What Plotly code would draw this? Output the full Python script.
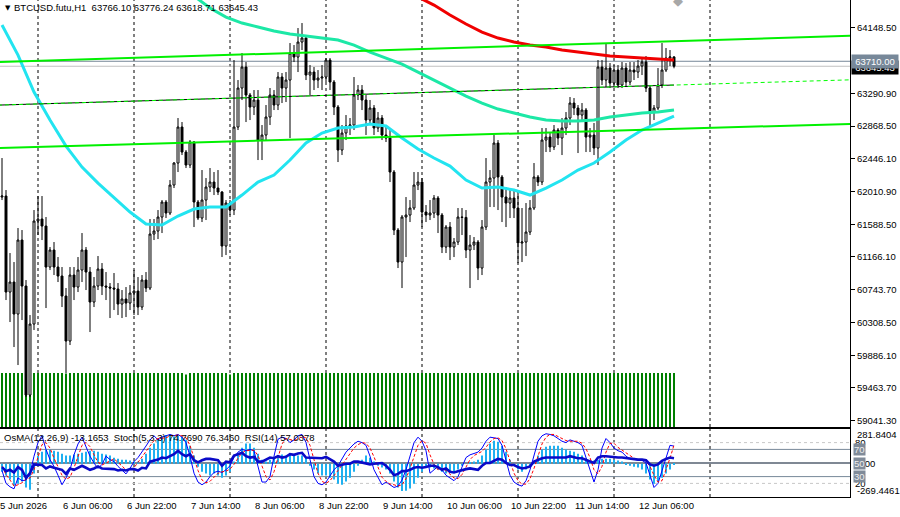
import pandas as pd
import plotly.graph_objects as go

# ---------------- data ----------------
times = pd.date_range("2026-06-05 15:00", periods=169, freq="h")

open_ = [
    61945, 61958, 60710, 60840, 60424, 61386, 60788, 59371, 60294, 61633,
    61659, 61568, 61035, 61256, 61035, 60918, 60658, 60073, 60931, 60775,
    60996, 61256, 60970, 60580, 60788, 61009, 60788, 60775, 60762, 60749,
    60554, 60619, 60567, 60697, 60723, 60515, 60866, 60762, 61464, 61503,
    61685, 61880, 61737, 62101, 62387, 62855, 62530, 62361, 62660, 61880,
    61672, 61906, 62075, 62140, 62062, 62010, 61308, 61867, 61776, 62855,
    63362, 63635, 63271, 63115, 63206, 62686, 62751, 62985, 63271, 63141,
    63505, 63362, 63466, 63817, 63765, 63960, 64012, 63531, 63570, 63466,
    63492, 63505, 63726, 63440, 63115, 62556, 62777, 62868, 62881, 63271,
    63336, 63206, 62946, 63102, 62842, 62972, 62751, 62712, 62270, 61516,
    61100, 61685, 61711, 61802, 62101, 62140, 61750, 61711, 61737, 61932,
    61711, 61295, 61555, 61295, 61360, 61685, 61680, 61256, 61321, 61360,
    61022, 61555, 62140, 62192, 62647, 62205, 61945, 61867, 61932, 61802,
    61347, 61360, 61490, 61802, 62205, 62140, 62686, 62725, 62595, 62816,
    62712, 62842, 62972, 63167, 63102, 63011, 63076, 62725, 62751, 62582,
    63635, 63466, 63622, 63427, 63596, 63401, 63622, 63440, 63596, 63570,
    63648, 63700, 63362, 63050, 63102, 63401, 63596, 63752, 63766.10,
]
high = [
    62452, 62036, 61217, 61100, 61542, 61516, 60866, 60411, 61776, 61958,
    61958, 61685, 61295, 61360, 61165, 61035, 60762, 61035, 61035, 61165,
    61477, 61295, 61035, 60905, 61178, 61087, 60970, 60827, 60957, 60827,
    60736, 60775, 60801, 60996, 60905, 60931, 60970, 61659, 61659, 61776,
    61906, 61906, 62166, 62400, 62972, 62920, 62556, 62686, 62673, 61906,
    62296, 62192, 62322, 62270, 62296, 62023, 61906, 61906, 63726, 63466,
    63817, 63700, 63297, 63336, 63336, 62881, 63141, 63362, 63336, 63570,
    63557, 63570, 63947, 63921, 64142, 64207, 64051, 63661, 63635, 63596,
    63661, 63752, 63752, 63466, 63141, 62881, 63011, 62972, 63505, 63401,
    63401, 63271, 63206, 63141, 63050, 63011, 62881, 62816, 62296, 61542,
    61711, 61945, 61906, 62270, 62270, 62192, 61841, 61906, 61971, 61958,
    61737, 61581, 61620, 61412, 61802, 61802, 61776, 61451, 61425, 61386,
    61646, 62452, 62296, 62751, 62686, 62231, 62075, 62036, 62036, 62010,
    61802, 61867, 61906, 62387, 62231, 62842, 62842, 62790, 62881, 62842,
    62972, 63050, 63245, 63232, 63141, 63167, 63102, 62842, 62907, 63726,
    63726, 63947, 63687, 63661, 63661, 63700, 63687, 63700, 63700, 63726,
    63752, 63778, 63401, 63141, 63622, 63947, 63882, 63856, 63776.24,
]
low = [
    61906, 60606, 60320, 59995, 59761, 60346, 59345, 59345, 60216, 61451,
    61386, 60502, 60996, 60931, 60840, 60515, 59657, 60021, 60606, 60710,
    60840, 60736, 60190, 60515, 60736, 60671, 60606, 60372, 60476, 60411,
    60372, 60385, 60476, 60411, 60411, 60476, 60710, 60736, 61386, 61399,
    61477, 61672, 61711, 62062, 62270, 62491, 62322, 62322, 61555, 61646,
    61620, 61646, 62010, 61971, 61971, 61165, 61191, 61711, 61711, 62816,
    63206, 62920, 62946, 63011, 62426, 62426, 62686, 62881, 63076, 63076,
    63167, 63180, 62712, 63700, 63570, 63856, 63466, 63271, 63336, 63362,
    63336, 63440, 63336, 63011, 62400, 62491, 62686, 62751, 62816, 63206,
    63076, 62751, 62881, 62751, 62790, 62686, 62660, 62140, 61451, 61022,
    60762, 61165, 61620, 61776, 62036, 61555, 61620, 61646, 61672, 61477,
    61217, 61217, 61126, 61165, 61321, 61451, 61152, 60762, 61256, 60866,
    60931, 61516, 61815, 61815, 61776, 61620, 61555, 61672, 61672, 61087,
    61100, 61178, 61451, 61776, 62088, 62101, 62530, 62530, 62556, 62621,
    62491, 62751, 62881, 63011, 62517, 62920, 62530, 62530, 62491, 62361,
    63401, 63375, 63362, 63375, 63362, 63362, 63375, 63401, 63466, 63492,
    63531, 63310, 62855, 62946, 63076, 63362, 63570, 63648, 63618.71,
]
close = [
    61958, 60710, 60840, 60424, 61386, 60788, 59371, 60294, 61633, 61659,
    61568, 61035, 61256, 61035, 60918, 60658, 60073, 60931, 60775, 60996,
    61256, 60970, 60580, 60788, 61009, 60788, 60775, 60762, 60749, 60554,
    60619, 60567, 60697, 60723, 60515, 60866, 60762, 61464, 61503, 61685,
    61880, 61737, 62101, 62387, 62855, 62530, 62361, 62660, 61880, 61672,
    61906, 62075, 62140, 62062, 62010, 61308, 61867, 61776, 62855, 63362,
    63635, 63271, 63115, 63206, 62686, 62751, 62985, 63271, 63141, 63505,
    63362, 63466, 63817, 63765, 63960, 64012, 63531, 63570, 63466, 63492,
    63505, 63726, 63440, 63115, 62556, 62777, 62868, 62881, 63271, 63336,
    63206, 62946, 63102, 62842, 62972, 62751, 62712, 62270, 61516, 61100,
    61685, 61711, 61802, 62101, 62140, 61750, 61711, 61737, 61932, 61711,
    61295, 61555, 61295, 61360, 61685, 61680, 61256, 61321, 61360, 61022,
    61555, 62140, 62192, 62647, 62205, 61945, 61867, 61932, 61802, 61347,
    61360, 61490, 61802, 62205, 62140, 62686, 62725, 62595, 62816, 62712,
    62842, 62972, 63167, 63102, 63011, 63076, 62725, 62751, 62582, 63635,
    63466, 63622, 63427, 63596, 63401, 63622, 63440, 63596, 63570, 63648,
    63700, 63362, 63050, 63102, 63401, 63596, 63752, 63766, 63645.43,
]
tick_volume = [
    100, 100, 100, 100, 100, 100, 98, 100, 100, 100,
    100, 100, 100, 100, 100, 100, 99, 100, 100, 100,
    100, 100, 100, 100, 100, 100, 100, 100, 100, 100,
    100, 100, 100, 100, 100, 100, 100, 100, 100, 100,
    100, 100, 100, 100, 100, 100, 97, 100, 100, 100,
    100, 100, 100, 100, 100, 100, 100, 97, 100, 100,
    100, 100, 100, 100, 100, 100, 100, 100, 100, 100,
    100, 100, 100, 100, 100, 100, 100, 100, 100, 100,
    100, 100, 100, 100, 100, 100, 100, 100, 100, 100,
    100, 100, 100, 100, 100, 100, 100, 100, 100, 100,
    100, 100, 100, 100, 100, 100, 100, 100, 100, 100,
    100, 100, 100, 100, 100, 100, 100, 100, 100, 100,
    100, 100, 100, 100, 100, 100, 100, 100, 100, 100,
    100, 100, 100, 100, 100, 100, 100, 100, 100, 100,
    100, 100, 100, 100, 100, 100, 100, 100, 100, 100,
    100, 100, 100, 100, 100, 100, 100, 100, 100, 100,
    100, 100, 100, 100, 100, 100, 100, 100, 100,
]

# moving averages, read every 4th bar
ma_fast = [  # cyan, from bar 0
    64181, 63791, 63310, 62946, 62608, 62335, 62127, 61932, 61750, 61594,
    61581, 61698, 61789, 61815, 61815, 61971, 62140, 62231, 62426, 62647,
    62777, 62842, 62855, 62894, 62868, 62712, 62569, 62452, 62348, 62166,
    62062, 62075, 62036, 61971, 62062, 62166, 62296, 62387, 62530, 62686,
    62816, 62907, 62998,
]
ma_mid = [  # spring green, from bar 48
    64558, 64402, 64285, 64207, 64155, 64103, 64064, 64038, 64012, 63986,
    63921, 63830, 63752, 63674, 63570, 63466, 63362, 63258, 63167, 63089,
    63037, 62985, 62946, 62933, 62933, 62946, 62985, 63011, 63037, 63050,
    63076,
]
ma_slow = [  # red, from bar 104
    64545, 64441, 64311, 64194, 64090, 64012, 63960, 63921, 63895, 63856,
    63830, 63804, 63778, 63765, 63752, 63739, 63726,
]

# sub window indicators
osma = [
    -79, -118, -157, -216, -197, -177, -236, -256, -98, 79,
    118, 138, 138, 128, 118, 98, 79, 79, 89, 98,
    108, 118, 128, 128, 118, 98, 89, 79, 59, 49,
    39, 39, 30, 20, 20, 49, 98, 157, 197, 236,
    266, 282, 276, 266, 276, 266, 236, 177, 79, -30,
    -79, -98, -118, -98, -118, -138, -118, -79, 20, 98,
    157, 197, 197, 157, 98, 39, 20, 39, 49, 79,
    89, 79, 89, 79, 79, 79, 59, -20, -59, -98,
    -118, -118, -138, -157, -197, -207, -177, -138, -79, -20,
    39, 79, 59, 20, -20, -39, -59, -98, -177, -236,
    -269, -266, -246, -197, -138, -79, -39, -39, -49, -59,
    -79, -98, -79, -79, -59, -20, 0, 10, 20, 39,
    79, 138, 197, 226, 216, 177, 118, 39, -20, -59,
    -79, -59, -30, 20, 79, 138, 167, 177, 177, 177,
    157, 138, 128, 118, 98, 79, 49, 20, 30, 39,
    49, 49, 49, 39, 30, 20, -10, -20, -30, -39,
    -59, -98, -157, -197, -177, -138, -98, -59, -13.1653,
]
stoch_main = [
    39, 20, 15, 12, 28, 24, 25, 35, 60, 80,
    90, 70, 55, 45, 32, 18, 28, 40, 62, 78,
    88, 75, 60, 50, 42, 48, 60, 55, 52, 45,
    40, 34, 42, 52, 58, 66, 75, 84, 90, 84,
    88, 90, 92, 90, 92, 88, 80, 60, 35, 22,
    18, 22, 30, 36, 38, 36, 40, 46, 58, 66,
    70, 68, 70, 68, 45, 22, 22, 30, 60, 85,
    88, 86, 80, 84, 90, 92, 80, 55, 30, 20,
    18, 22, 32, 40, 46, 56, 66, 72, 78, 82,
    80, 76, 60, 40, 28, 18, 22, 18, 14, 16,
    25, 40, 60, 80, 88, 82, 68, 35, 40, 45,
    40, 32, 28, 24, 30, 45, 58, 62, 64, 66,
    72, 82, 88, 87, 86, 76, 52, 32, 22, 18,
    16, 24, 40, 62, 82, 90, 93, 92, 90, 86,
    82, 80, 84, 82, 80, 76, 58, 40, 22, 40,
    72, 86, 80, 72, 68, 66, 60, 56, 55, 55,
    54, 50, 32, 14, 20, 38, 58, 76, 74.769,
]
stoch_signal = [
    45, 33, 25, 16, 18, 21, 26, 28, 40, 58,
    77, 80, 72, 57, 44, 32, 26, 29, 43, 60,
    76, 80, 74, 62, 51, 47, 50, 54, 56, 51,
    46, 40, 39, 43, 51, 59, 66, 75, 83, 86,
    87, 87, 90, 91, 91, 90, 87, 76, 58, 39,
    25, 21, 23, 29, 35, 37, 38, 41, 48, 57,
    65, 68, 69, 69, 61, 45, 30, 25, 37, 58,
    78, 86, 85, 83, 85, 89, 87, 76, 55, 35,
    23, 20, 24, 31, 39, 47, 56, 65, 72, 77,
    80, 79, 72, 59, 43, 29, 23, 19, 18, 16,
    18, 27, 42, 60, 76, 83, 79, 62, 48, 40,
    42, 39, 33, 28, 27, 33, 44, 55, 61, 64,
    67, 73, 81, 86, 87, 83, 71, 53, 35, 24,
    19, 19, 27, 42, 61, 78, 88, 92, 92, 89,
    86, 83, 82, 82, 82, 79, 71, 58, 40, 34,
    45, 66, 79, 79, 73, 69, 65, 61, 57, 55,
    55, 53, 45, 32, 22, 24, 39, 57, 76.346,
]
rsi = [
    44, 38, 40, 36, 44, 40, 28, 35, 48, 48,
    47, 42, 45, 43, 42, 40, 34, 42, 40, 43,
    46, 43, 40, 42, 45, 42, 42, 42, 41, 39,
    40, 39, 41, 41, 39, 43, 42, 52, 53, 55,
    58, 57, 60, 63, 68, 63, 60, 63, 54, 51,
    54, 56, 56, 55, 54, 46, 52, 51, 61, 63,
    65, 60, 58, 59, 52, 52, 55, 58, 57, 60,
    58, 59, 63, 62, 64, 65, 58, 58, 57, 57,
    57, 59, 56, 52, 46, 48, 49, 49, 52, 52,
    51, 49, 48, 49, 50, 50, 46, 40, 32, 34,
    38, 38, 40, 43, 44, 43, 44, 46, 46, 44,
    40, 42, 37, 36, 38, 40, 41, 42, 41, 40,
    46, 50, 50, 53, 56, 55, 50, 47, 47, 44,
    42, 43, 45, 52, 55, 57, 58, 58, 58, 58,
    57, 58, 60, 58, 57, 57, 55, 52, 50, 58,
    60, 60, 59, 59, 58, 58, 57, 57, 56, 55,
    55, 54, 48, 46, 48, 53, 56, 58, 57.0378,
]

# drawn objects
line_times = ["2026-06-05 14:00", "2026-06-14 12:00"]
channel_upper = [63700, 64042]
channel_lower = [62581, 62897]
mid_dashed = [63140, 63470]
mid_solid_times = ["2026-06-05 14:00", "2026-06-12 15:00"]
mid_solid = [63140, 63401]
level_price = 63710.00
last_price = 63645.43
arrow_time = "2026-06-12 16:00"

price_ticks = [64148.50, 63290.90, 62868.50, 62446.10, 62010.90, 61588.50,
               61166.10, 60743.70, 60308.50, 59886.10, 59463.70, 59041.30]
date_label_times = ["2026-06-05 14:30", "2026-06-06 06:00", "2026-06-06 22:00",
                    "2026-06-07 14:00", "2026-06-08 06:00", "2026-06-08 22:00",
                    "2026-06-09 14:00", "2026-06-10 06:00", "2026-06-10 22:00",
                    "2026-06-11 14:00", "2026-06-12 06:00"]
date_label_text = ["5 Jun 2026", "6 Jun 06:00", "6 Jun 22:00", "7 Jun 14:00",
                   "8 Jun 06:00", "8 Jun 22:00", "9 Jun 14:00", "10 Jun 06:00",
                   "10 Jun 22:00", "11 Jun 14:00", "12 Jun 06:00"]
separator_days = pd.date_range("2026-06-06", "2026-06-13", freq="D")
levels = [80, 70, 50, 30, 20]

x_range = ["2026-06-05 14:30", "2026-06-14 11:00"]
price_range = [58955.5, 64506.5]
osma_range = [-328.5, 340.9]

# ---------------- layout geometry ----------------
PLOT_H = 497.0
main_dom = [(PLOT_H - 427) / PLOT_H, 1.0]
sub_dom = [0.0, (PLOT_H - 429) / PLOT_H]
FONT = "Liberation Sans, Arial, sans-serif"

fig = go.Figure()

# volume (base axis of main window)
fig.add_trace(go.Bar(x=times, y=tick_volume, xaxis="x", yaxis="y",
                     marker=dict(color="#008000", line=dict(width=0)),
                     width=900000, hoverinfo="skip"))
# candles
fig.add_trace(go.Candlestick(
    x=times, open=open_, high=high, low=low, close=close,
    xaxis="x", yaxis="y5", whiskerwidth=0,
    increasing=dict(line=dict(color="black", width=1), fillcolor="white"),
    decreasing=dict(line=dict(color="black", width=1), fillcolor="black"),
))
# moving averages
fig.add_trace(go.Scatter(x=times[0::4], y=ma_fast, xaxis="x", yaxis="y5", mode="lines",
                         line=dict(color="#22E4F0", width=3)))
fig.add_trace(go.Scatter(x=times[48::4], y=ma_mid, xaxis="x", yaxis="y5", mode="lines",
                         line=dict(color="#1CE8A6", width=3)))
fig.add_trace(go.Scatter(x=times[104::4], y=ma_slow, xaxis="x", yaxis="y5", mode="lines",
                         line=dict(color="#F00000", width=3)))
# trend lines
fig.add_trace(go.Scatter(x=line_times, y=channel_upper, xaxis="x", yaxis="y5", mode="lines",
                         line=dict(color="#00F000", width=2)))
fig.add_trace(go.Scatter(x=line_times, y=channel_lower, xaxis="x", yaxis="y5", mode="lines",
                         line=dict(color="#00F000", width=2)))
fig.add_trace(go.Scatter(x=mid_solid_times, y=mid_solid, xaxis="x", yaxis="y5", mode="lines",
                         line=dict(color="black", width=1)))
fig.add_trace(go.Scatter(x=line_times, y=mid_dashed, xaxis="x", yaxis="y5", mode="lines",
                         line=dict(color="#00FF00", width=1, dash="4px,3px")))

# sub window
fig.add_trace(go.Bar(x=times, y=osma, xaxis="x2", yaxis="y2",
                     marker=dict(color="#1EB0F0", line=dict(width=0)), width=1800000))
fig.add_trace(go.Scatter(x=times, y=stoch_main, xaxis="x2", yaxis="y3", mode="lines",
                         line=dict(color="#0000FF", width=1)))
fig.add_trace(go.Scatter(x=times, y=stoch_signal, xaxis="x2", yaxis="y3", mode="lines",
                         line=dict(color="#FF0000", width=1, dash="3px,2px")))
fig.add_trace(go.Scatter(x=times, y=rsi, xaxis="x2", yaxis="y3", mode="lines",
                         line=dict(color="#0A0AC8", width=2.6)))

shapes = []
for d in separator_days:
    for xr, yr in (("x", "y domain"), ("x2", "y2 domain")):
        shapes.append(dict(type="line", xref=xr, yref=yr, x0=d, x1=d, y0=0, y1=1,
                           line=dict(color="black", width=1, dash="3px,3px"), layer="below"))
shapes.append(dict(type="line", xref="x domain", yref="y5", x0=0, x1=1,
                   y0=last_price, y1=last_price, line=dict(color="#C0C0C0", width=1), layer="below"))
shapes.append(dict(type="line", xref="x domain", yref="y5", x0=0, x1=1,
                   y0=level_price, y1=level_price, line=dict(color="#778899", width=1), layer="below"))
level_style = {80: ("#C8C8C8", 1, "3px,3px"), 70: ("#778899", 1, "solid"),
               50: ("#7F8894", 2.2, "solid"), 30: ("#778899", 1, "solid"),
               20: ("#C8C8C8", 1, "3px,3px")}
for lv in levels:
    c, w, dsh = level_style[lv]
    shapes.append(dict(type="line", xref="x2 domain", yref="y3", x0=0, x1=1, y0=lv, y1=lv,
                       line=dict(color=c, width=w, dash=dsh), layer="below"))

annotations = []
def paper_y(px):
    return (PLOT_H - px) / PLOT_H

annotations.append(dict(x=3 / 850, y=paper_y(8), xref="paper", yref="paper", text="▼",
                        showarrow=False, xanchor="left", yanchor="middle",
                        font=dict(size=7, color="black", family="DejaVu Sans")))
annotations.append(dict(x=12 / 850, y=paper_y(8), xref="paper", yref="paper",
                        text="BTCUSD.futu,H1\u00a0\u00a0" + "\u00a0".join(
                            f"{v:.2f}" for v in (open_[-1], high[-1], low[-1], close[-1])),
                        showarrow=False, xanchor="left", yanchor="middle",
                        font=dict(size=9.5, color="black", family=FONT)))
annotations.append(dict(x=2 / 850, y=paper_y(437), xref="paper", yref="paper",
                        text=f"OsMA(12,26,9) {osma[-1]:.4f}\u00a0\u00a0Stoch(5,3,3) {stoch_main[-1]:.4f} "
                             f"{stoch_signal[-1]:.4f}\u00a0\u00a0RSI(14) {rsi[-1]:.4f}",
                        showarrow=False, xanchor="left", yanchor="middle",
                        font=dict(size=9.5, color="black", family=FONT)))
for i, (t, txt) in enumerate(zip(date_label_times, date_label_text)):
    annotations.append(dict(x=t, y=paper_y(505), xref="x2", yref="paper", text=txt,
                            showarrow=False, xanchor="left", yanchor="middle",
                            xshift=-2 if i == 0 else -1,
                            font=dict(size=9.5, color="black", family=FONT)))
annotations.append(dict(x=1, y=last_price, xref="paper", yref="y5", text=f"{last_price:.2f}",
                        showarrow=False, xanchor="left", yanchor="middle", xshift=1, yshift=-1,
                        bgcolor="black", borderpad=1, width=44,
                        font=dict(size=9.5, color="white", family=FONT)))
annotations.append(dict(x=1, y=level_price, xref="paper", yref="y5", text=f"{level_price:.2f}",
                        showarrow=False, xanchor="left", yanchor="middle", xshift=1,
                        bgcolor="#778899", borderpad=1, width=44,
                        font=dict(size=9.5, color="white", family=FONT)))
for lv in (70, 50, 30):
    annotations.append(dict(x=1, y=lv, xref="paper", yref="y3", text=str(lv),
                            showarrow=False, xanchor="left", yanchor="middle", xshift=3,
                            bgcolor="#808B99", borderpad=0,
                            font=dict(size=9.5, color="#EEEEEE", family=FONT)))
annotations.append(dict(x=arrow_time, y=1, xref="x", yref="paper", text="◆",
                        showarrow=False, xanchor="center", yanchor="middle",
                        font=dict(size=13, color="#A8A8A8", family="DejaVu Sans")))

fig.update_layout(
    width=900, height=517,
    margin=dict(l=0, r=50, t=0, b=20),
    paper_bgcolor="white", plot_bgcolor="white",
    showlegend=False, barmode="overlay",
    font=dict(family=FONT, size=9.5, color="black"),
    xaxis=dict(domain=[0, 1], anchor="y", type="date", range=x_range,
               showticklabels=False, ticks="", showgrid=False, zeroline=False,
               showline=True, linecolor="black", linewidth=1,
               rangeslider=dict(visible=False)),
    xaxis2=dict(domain=[0, 1], anchor="y2", type="date", range=x_range, matches="x",
                showticklabels=False, ticks="", showgrid=False, zeroline=False,
                showline=True, mirror=True, linecolor="black", linewidth=1),
    yaxis=dict(domain=main_dom, anchor="x", range=[0, 790.7], visible=False, fixedrange=True),
    yaxis5=dict(domain=main_dom, anchor="x", overlaying="y", side="right", range=price_range,
                tickvals=price_ticks, ticktext=[f"{v:.2f}" for v in price_ticks],
                ticks="outside", ticklen=4, tickcolor="black", showgrid=False, zeroline=False,
                showline=True, linecolor="black", linewidth=1,
                tickfont=dict(size=9.5, family=FONT)),
    yaxis2=dict(domain=sub_dom, anchor="x2", side="right", range=osma_range,
                tickvals=[281.8404, 0, -269.4461], ticktext=["281.8404", "0.00", "-269.4461"],
                ticks="outside", ticklen=4, tickcolor="white",
                showgrid=False, zeroline=False, showline=True, linecolor="black", linewidth=1,
                tickfont=dict(size=9.5, family=FONT)),
    yaxis3=dict(domain=sub_dom, anchor="x2", overlaying="y2", side="right", range=[0, 100],
                tickvals=[80, 20], ticktext=["80", "20"], ticks="outside", ticklen=2,
                tickcolor="white", showgrid=False, zeroline=False,
                tickfont=dict(size=9.5, family=FONT)),
    shapes=shapes,
    annotations=annotations,
)

fig.write_html("out.html")
